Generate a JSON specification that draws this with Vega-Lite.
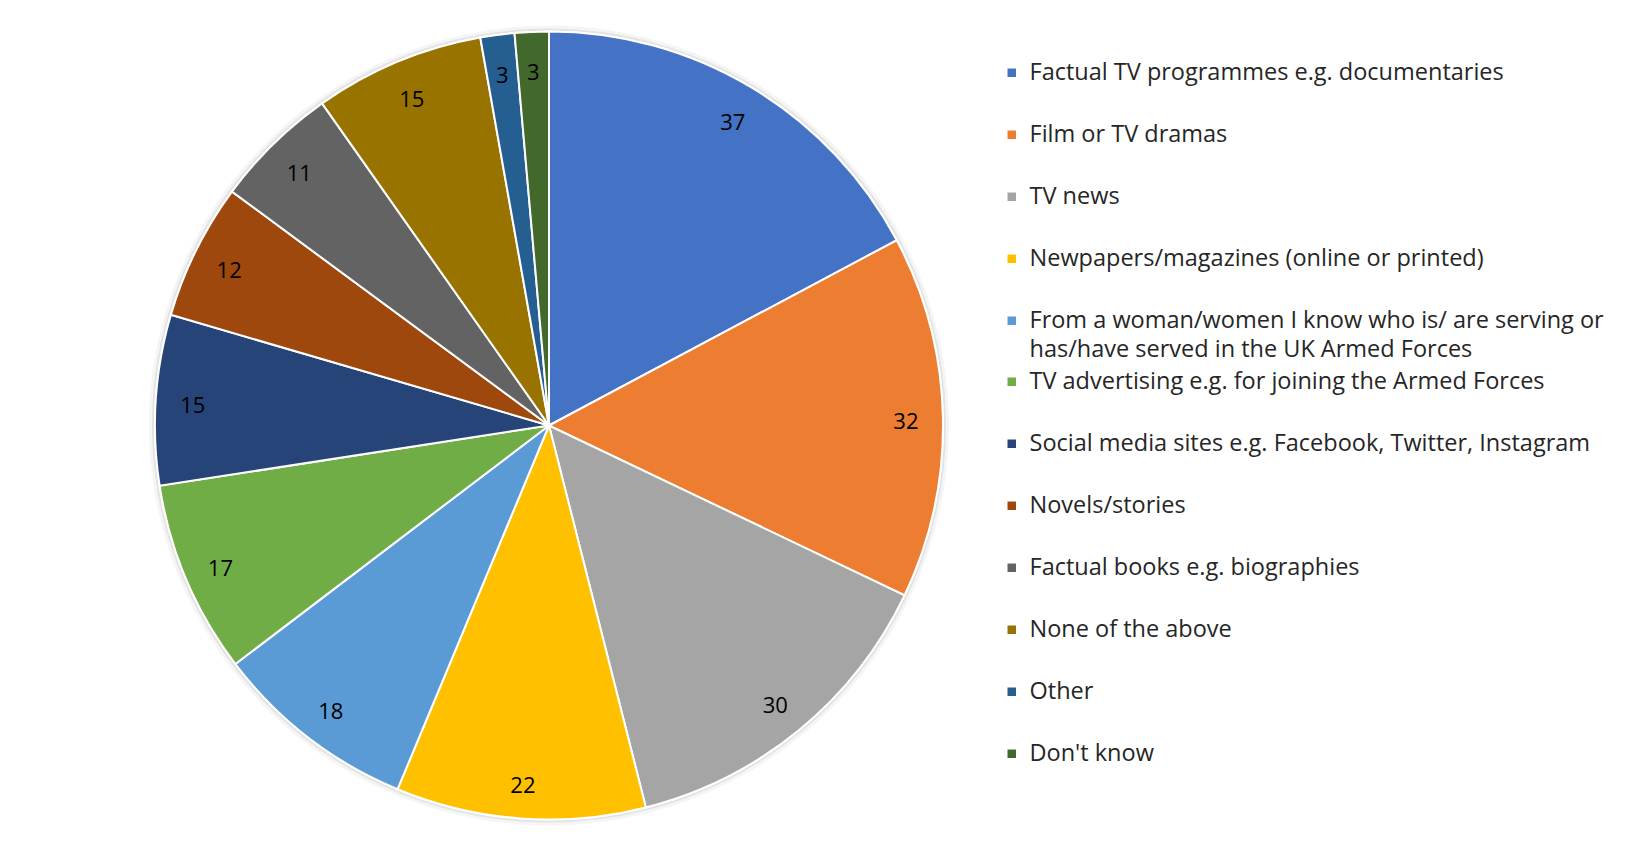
{
  "$schema": "https://vega.github.io/schema/vega-lite/v6.json",
  "width": 1098,
  "height": 851,
  "padding": 0,
  "background": "white",
  "config": {"view": {"stroke": null}, "font": "Open Sans", "style": {"guide-label": {"lineHeight": 29}}},
  "data": {"values": [
    {"k": 1, "source": "Factual TV programmes e.g. documentaries", "value": 37},
    {"k": 2, "source": "Film or TV dramas", "value": 32},
    {"k": 3, "source": "TV news", "value": 30},
    {"k": 4, "source": "Newpapers/magazines (online or printed)", "value": 22},
    {"k": 5, "source": "From a woman/women I know who is/ are serving or has/have served in the UK Armed Forces", "value": 18},
    {"k": 6, "source": "TV advertising e.g. for joining the Armed Forces", "value": 17},
    {"k": 7, "source": "Social media sites e.g. Facebook, Twitter, Instagram", "value": 15},
    {"k": 8, "source": "Novels/stories", "value": 12},
    {"k": 9, "source": "Factual books e.g. biographies", "value": 11},
    {"k": 10, "source": "None of the above", "value": 15},
    {"k": 11, "source": "Other", "value": 3},
    {"k": 12, "source": "Don't know", "value": 3}
  ]},
  "encoding": {
    "theta": {"field": "value", "type": "quantitative", "stack": true},
    "order": {"field": "k", "type": "quantitative"}
  },
  "layer": [
    {
      "mark": {"type": "arc", "outerRadius": 400, "fill": "#000000", "opacity": 0.04, "strokeWidth": 0}
    },
    {
      "mark": {"type": "arc", "outerRadius": 397, "fill": "#000000", "opacity": 0.07, "strokeWidth": 0}
    },
    {
      "mark": {"type": "arc", "outerRadius": 394, "stroke": "white", "strokeWidth": 2},
      "encoding": {
        "color": {
          "field": "source", "type": "nominal",
          "scale": {
            "domain": [
              "Factual TV programmes e.g. documentaries",
              "Film or TV dramas",
              "TV news",
              "Newpapers/magazines (online or printed)",
              "From a woman/women I know who is/ are serving or has/have served in the UK Armed Forces",
              "TV advertising e.g. for joining the Armed Forces",
              "Social media sites e.g. Facebook, Twitter, Instagram",
              "Novels/stories",
              "Factual books e.g. biographies",
              "None of the above",
              "Other",
              "Don't know"
            ],
            "range": ["#4472C4", "#ED7D31", "#A5A5A5", "#FFC000", "#5B9BD5", "#70AD47", "#264478", "#9E480E", "#636363", "#997300", "#255E91", "#43682B"]
          },
          "legend": {
            "title": null,
            "orient": "none",
            "legendX": 1000,
            "legendY": 61,
            "values": [
              "Factual TV programmes e.g. documentaries",
              "Film or TV dramas",
              "TV news",
              "Newpapers/magazines (online or printed)",
              "From a woman/women I know who is/ are serving or has/have served in the UK Armed Forces"
            ],
            "symbolType": "square",
            "symbolSize": 72,
            "symbolStrokeWidth": 0,
            "labelFont": "Open Sans",
            "labelFontSize": 23.5,
            "labelColor": "#262626",
            "labelLimit": 700,
            "labelOffset": 6,
            "rowPadding": 37,
            "labelExpr": "datum.label == 'From a woman/women I know who is/ are serving or has/have served in the UK Armed Forces' ? ['From a woman/women I know who is/ are serving or', 'has/have served in the UK Armed Forces'] : datum.label"
          }
        }
      }
    },
    {
      "mark": {"type": "arc", "outerRadius": 394, "stroke": "white", "strokeWidth": 2},
      "encoding": {
        "fill": {
          "field": "source", "type": "nominal",
          "scale": {
            "domain": [
              "TV advertising e.g. for joining the Armed Forces",
              "Social media sites e.g. Facebook, Twitter, Instagram",
              "Novels/stories",
              "Factual books e.g. biographies",
              "None of the above",
              "Other",
              "Don't know",
              "Factual TV programmes e.g. documentaries",
              "Film or TV dramas",
              "TV news",
              "Newpapers/magazines (online or printed)",
              "From a woman/women I know who is/ are serving or has/have served in the UK Armed Forces"
            ],
            "range": ["#70AD47", "#264478", "#9E480E", "#636363", "#997300", "#255E91", "#43682B", "#4472C4", "#ED7D31", "#A5A5A5", "#FFC000", "#5B9BD5"]
          },
          "legend": {
            "title": null,
            "orient": "none",
            "legendX": 1000,
            "legendY": 370,
            "values": [
              "TV advertising e.g. for joining the Armed Forces",
              "Social media sites e.g. Facebook, Twitter, Instagram",
              "Novels/stories",
              "Factual books e.g. biographies",
              "None of the above",
              "Other",
              "Don't know"
            ],
            "symbolType": "square",
            "symbolSize": 72,
            "symbolStrokeWidth": 0,
            "labelFont": "Open Sans",
            "labelFontSize": 23.5,
            "labelColor": "#262626",
            "labelLimit": 700,
            "labelOffset": 6,
            "rowPadding": 37
          }
        }
      }
    },
    {
      "mark": {"type": "text", "radius": 357, "fontSize": 22, "font": "Open Sans", "color": "black", "dy": 4},
      "encoding": {"text": {"field": "value", "type": "quantitative"}}
    }
  ]
}
